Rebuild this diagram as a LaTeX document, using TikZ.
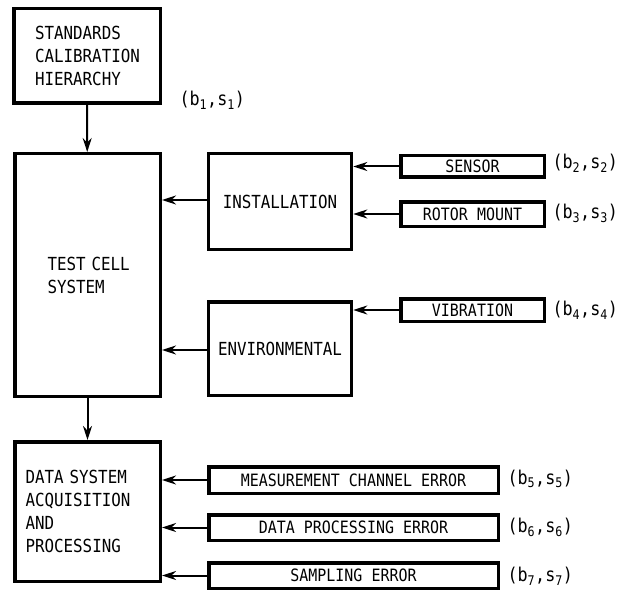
\documentclass[tikz,border=0pt]{standalone}
\usepackage{fontspec}
\usepackage{tikz}
\usetikzlibrary{arrows.meta}
\newfontfamily\blockfont{DejaVu Sans Mono}[FakeStretch=0.88]
\newcommand{\bsl}[1]{{\blockfont\fontsize{19}{20}\selectfont (b\textsubscript{#1},s\textsubscript{#1})}}

\tikzset{
  bigbox/.style={draw, line width=3.5pt, inner sep=0pt, align=left,
    font=\blockfont\fontsize{18}{23}\selectfont},
  midbox/.style={draw, line width=3.5pt, inner sep=0pt, align=center,
    minimum width=143pt, font=\blockfont\fontsize{18}{23}\selectfont},
  srcbox/.style={draw, line width=3.5pt, inner sep=0pt,
    font=\blockfont\fontsize{17}{18}\selectfont},
  flow/.style={line width=2pt, -{Stealth[length=14pt,width=9pt]}},
}

\begin{document}
\begin{tikzpicture}[x=1pt,y=-1pt]
\useasboundingbox (0,0) rectangle (624,591);

% main chain
\node[bigbox, minimum width=146.5pt, minimum height=94.5pt, text width=104pt] (std) at (87,56)
  {STANDARDS\\CALIBRATION\\HIERARCHY};
\node[bigbox, minimum width=145.5pt, minimum height=242.5pt, text width=80pt] (tcs) at (87.5,275)
  {TEST~CELL\\SYSTEM};
\node[bigbox, minimum width=145.5pt, minimum height=139.5pt, text width=124pt] (das) at (87.5,511.5)
  {DATA~SYSTEM\\ACQUISITION\\AND\\PROCESSING};

% contributing blocks
\node[midbox, minimum height=95.5pt] (inst) at (280,201.5) {INSTALLATION};
\node[midbox, minimum height=93.5pt] (env) at (280,348.5) {ENVIRONMENTAL};

% error sources
\node[srcbox, minimum width=143.5pt, minimum height=21.5pt] (sens) at (472.5,166.5) {SENSOR};
\node[srcbox, minimum width=143.5pt, minimum height=24.5pt] (rot) at (472.5,214) {ROTOR MOUNT};
\node[srcbox, minimum width=143.5pt, minimum height=22.5pt] (vib) at (472.5,310) {VIBRATION};
\node[srcbox, minimum width=289.5pt, minimum height=26.5pt] (mce) at (353.5,480) {MEASUREMENT CHANNEL ERROR};
\node[srcbox, minimum width=289.5pt, minimum height=25.5pt] (dpe) at (353.5,527.5) {DATA PROCESSING ERROR};
\node[srcbox, minimum width=289.5pt, minimum height=25.5pt] (se) at (353.5,575.5) {SAMPLING ERROR};

% bias / precision labels
\node[anchor=west] (l1) at (176,100) {\bsl{1}};
\node[anchor=west] (l2) at (549,163) {\bsl{2}};
\node[anchor=west] (l3) at (549,213) {\bsl{3}};
\node[anchor=west] (l4) at (549,310) {\bsl{4}};
\node[anchor=west] (l5) at (504,479) {\bsl{5}};
\node[anchor=west] (l6) at (504,527) {\bsl{6}};
\node[anchor=west] (l7) at (504,576) {\bsl{7}};

% arrows
\draw[flow] (std) -- (tcs);
\draw[flow] (tcs) -- (das);
\draw[flow] ([yshift=1.5pt]inst.west) -- ([yshift=1.5pt]inst.west -| tcs.east);
\draw[flow] ([yshift=-1.5pt]env.west) -- ([yshift=-1.5pt]env.west -| tcs.east);
\draw[flow] (sens.west) -- (sens.west -| inst.east);
\draw[flow] (rot.west) -- (rot.west -| inst.east);
\draw[flow] (vib.west) -- (vib.west -| env.east);
\draw[flow] (mce.west) -- (mce.west -| das.east);
\draw[flow] (dpe.west) -- (dpe.west -| das.east);
\draw[flow] (se.west) -- (se.west -| das.east);
\end{tikzpicture}
\end{document}
